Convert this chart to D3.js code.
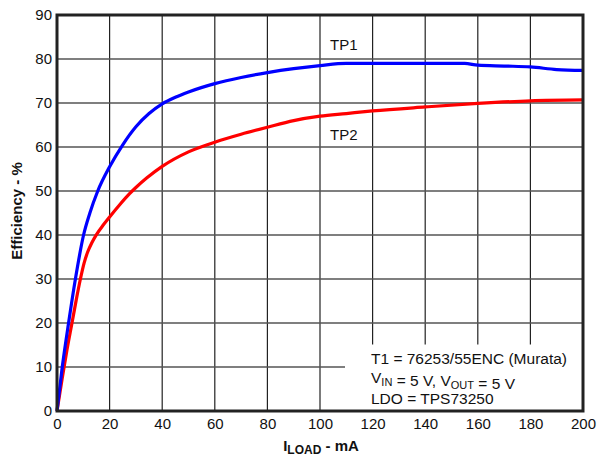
<!DOCTYPE html>
<html><head><meta charset="utf-8">
<script src="https://cdn.jsdelivr.net/npm/d3@7"></script>
<style>body{margin:0;background:#fff}svg{display:block;font-family:"Liberation Sans",Arial,sans-serif}</style>
</head><body><svg id="c" width="600" height="456"></svg>
<script>
const tp1Load = [0,2,4.4,7,10.1,12.5,15.5,20,25,30,35,40,45,50,60,70,80,90,100,110,120,140,155,160,170,180,190,200];
const tp1Eff  = [0,10,20,30,40,45,50,55.5,60.5,64.6,67.6,69.8,71.3,72.5,74.4,75.8,76.9,77.8,78.5,79,79,79,79,78.6,78.4,78.2,77.6,77.4];
const tp2Load = [0,2,3.8,5.7,7.3,8.9,10.3,11.7,13.3,15,17.5,20,24,27.6,30,34.2,40,50,60,70,80,90,100,110,120,140,160,180,200];
const tp2Eff  = [0,7.5,13.9,20,25.2,30,33.6,36.2,38.3,40.1,42.2,44.1,47,49.4,50.8,53,55.6,58.9,61.1,62.9,64.5,66,67,67.6,68.2,69.1,69.9,70.5,70.7];
const xTicks = [0,20,40,60,80,100,120,140,160,180,200];
const yTicks = [0,10,20,30,40,50,60,70,80,90];
const noteLines = ["T1 = 76253/55ENC (Murata)","V_IN = 5 V, V_OUT = 5 V","LDO = TPS73250"];

const svg = d3.select("#c");
const L=57,R=583,T=15,B=411;
const x = d3.scaleLinear().domain([0,200]).range([L,R]);
const y = d3.scaleLinear().domain([0,90]).range([B,T]);

const boxX0 = 345, boxY0 = y(15.1);
const vg = svg.append("g").attr("stroke","#222").attr("stroke-width",1.2);
xTicks.slice(1,-1).forEach(v=>{
  const xx = x(v);
  const yEnd = (xx>boxX0) ? boxY0 : B;
  vg.append("line").attr("x1",xx).attr("x2",xx).attr("y1",T).attr("y2",yEnd);
});
const hg = svg.append("g").attr("stroke","#555").attr("stroke-width",1.4);
yTicks.slice(1,-1).forEach(v=>{
  const yy=y(v);
  const xEnd = (yy>boxY0) ? boxX0 : R;
  hg.append("line").attr("x1",L).attr("x2",xEnd).attr("y1",yy).attr("y2",yy);
});

const line = d3.line().x(d=>x(d[0])).y(d=>y(d[1])).curve(d3.curveMonotoneX);
svg.append("path").datum(tp2Load.map((v,i)=>[v,tp2Eff[i]])).attr("d",line)
  .attr("fill","none").attr("stroke","#ff0000").attr("stroke-width",3.2);
svg.append("path").datum(tp1Load.map((v,i)=>[v,tp1Eff[i]])).attr("d",line)
  .attr("fill","none").attr("stroke","#0000ff").attr("stroke-width",3.2);

svg.append("rect").attr("x",L).attr("y",T).attr("width",R-L).attr("height",B-T)
  .attr("fill","none").attr("stroke","#222").attr("stroke-width",3);

const xAxis = svg.append("g").attr("transform",`translate(0,${B})`).call(d3.axisBottom(x).tickValues(xTicks).tickSize(0).tickPadding(7));
xAxis.select(".domain").remove();
xAxis.selectAll("text").attr("font-size",15).attr("fill","#111").attr("font-family","Liberation Sans, Arial, sans-serif");
const yAxis = svg.append("g").attr("transform",`translate(${L},0)`).call(d3.axisLeft(y).tickValues(yTicks).tickSize(0).tickPadding(5));
yAxis.select(".domain").remove();
yAxis.selectAll("text").attr("font-size",15).attr("fill","#111").attr("font-family","Liberation Sans, Arial, sans-serif");

svg.append("text").attr("x",330).attr("y",50).attr("font-size",15).attr("fill","#111").text("TP1");
svg.append("text").attr("x",330).attr("y",140).attr("font-size",15).attr("fill","#111").text("TP2");

const note = svg.append("g").attr("font-size",15.5).attr("fill","#111");
const baselines = [364,383,404];
noteLines.forEach((s,i)=>{
  const t = note.append("text").attr("x",371).attr("y",baselines[i]);
  const parts = s.split(/(V_[A-Z]+)/);
  parts.forEach(p=>{
    if(p.startsWith("V_")){
      t.append("tspan").text("V");
      t.append("tspan").attr("font-size",11).attr("dy",3).text(p.slice(2));
      t.append("tspan").attr("dy",-3).text("");
    } else if(p) t.append("tspan").text(p);
  });
});

const xt = svg.append("text").attr("x",321).attr("y",451).attr("text-anchor","middle")
  .attr("font-size",15).attr("font-weight","bold").attr("fill","#111");
xt.append("tspan").text("I");
xt.append("tspan").attr("font-size",12).attr("dy",3).text("LOAD");
xt.append("tspan").attr("dy",-3).text(" - mA");
svg.append("text").attr("transform","translate(22,211) rotate(-90)").attr("text-anchor","middle")
  .attr("font-size",15).attr("font-weight","bold").attr("fill","#111").text("Efficiency - %");
</script></body></html>
